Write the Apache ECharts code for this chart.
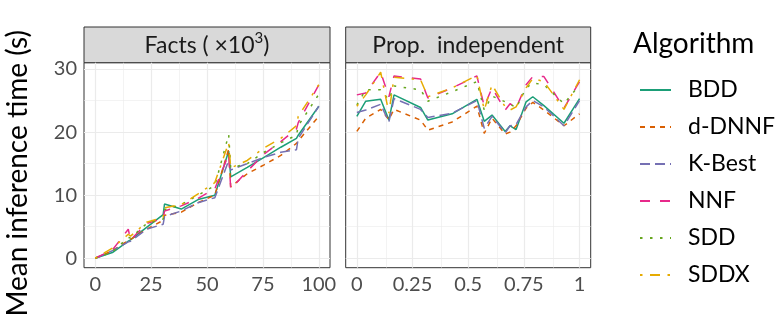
<!DOCTYPE html>
<html>
<head>
<meta charset="utf-8">
<script src="https://cdn.jsdelivr.net/npm/echarts@6/dist/echarts.min.js"></script>
<style>html,body{margin:0;padding:0;background:#fff;}#c{width:781px;height:324px;}</style>
</head>
<body>
<div id="c"></div>
<script>
// ---- data ----
const algorithms = ['BDD', 'd-DNNF', 'K-Best', 'NNF', 'SDD', 'SDDX'];
const colors = ['#1B9E77', '#D95F02', '#7570B3', '#E7298A', '#66A61E', '#E6AB02'];

const factsX = [0, 7.7, 14.8, 15.8, 23, 30.4, 31, 38.5, 46, 53.5, 59.7, 60.6, 68, 75.5, 83, 90, 90.8, 100];
const factsBDD   = [0, 0.9, 2.7, 2.9, 4.9, 6.9, 8.6, 7.8, 9.3, 10.0, 17.0, 12.9, 14.4, 16.0, 17.6, 19.0, 19.5, 24.1];
const factsDDNNF = [0, 1.2, 2.8, 3.0, 4.6, 6.0, 6.8, 7.3, 8.8, 10.0, 17.3, 11.3, 13.4, 14.8, 16.3, 18.2, 18.6, 22.5];
const factsKBest = [0, 1.2, 2.6, 2.7, 4.6, 5.4, 6.6, 7.5, 8.8, 9.6, 15.5, 14.0, 15.0, 16.0, 16.8, 17.2, 19.0, 24.1];
const factsNNF   = [0, 1.3, 4.6, 2.9, 5.5, 6.3, 7.5, 8.3, 9.5, 11.0, 16.5, 11.0, 13.8, 16.5, 18.5, 20.5, 21.5, 27.5];
const factsSDD   = [0, 1.0, 3.3, 3.2, 5.5, 6.2, 7.7, 8.5, 10.0, 11.5, 19.6, 14.3, 15.0, 16.8, 18.3, 19.5, 21.0, 26.0];
const factsSDDX  = [0, 1.6, 3.8, 3.5, 5.7, 6.5, 8.0, 8.5, 10.2, 12.0, 18.3, 14.3, 15.5, 17.5, 19.0, 21.0, 22.5, 27.5];

const propX = [0, 0.04, 0.107, 0.144, 0.167, 0.286, 0.319, 0.428, 0.539, 0.572, 0.607, 0.666, 0.688, 0.715, 0.76, 0.79, 0.84, 0.93, 1.0];
const propBDD   = [22.5, 24.9, 25.2, 21.9, 25.9, 23.9, 21.9, 22.9, 25.2, 21.7, 22.7, 20.1, 21.0, 20.4, 24.8, 25.6, 24.2, 21.4, 25.3];
const propDDNNF = [20.1, 22.2, 23.6, 22.0, 23.6, 21.9, 20.3, 21.6, 24.1, 19.8, 22.2, 19.7, 20.0, 21.0, 23.8, 24.7, 23.5, 21.0, 22.9];
const propKBest = [23.1, 23.5, 24.4, 21.6, 25.3, 23.6, 22.3, 23.0, 25.0, 20.6, 22.5, 19.9, 21.0, 21.2, 24.0, 25.0, 24.0, 21.0, 25.0];
const propNNF   = [25.9, 26.2, 29.5, 25.6, 28.9, 28.4, 25.4, 27.0, 28.9, 24.1, 27.0, 23.5, 24.5, 23.8, 27.5, 28.8, 28.8, 23.8, 28.0];
const propSDD   = [24.3, 26.7, 26.7, 25.1, 27.3, 26.7, 24.9, 26.4, 28.0, 23.5, 25.7, 24.8, 24.5, 23.8, 27.0, 27.8, 27.5, 24.5, 27.5];
const propSDDX  = [24.1, 25.9, 29.5, 23.0, 28.7, 28.3, 25.6, 27.0, 29.0, 23.5, 27.5, 24.0, 23.5, 24.0, 27.0, 28.5, 28.0, 23.6, 28.3];

const yTicks = [0, 10, 20, 30];
const yMinor = [5, 15, 25];
const factsTicks = [0, 25, 50, 75, 100];
const factsMinor = [12.5, 37.5, 62.5, 87.5];
const propTicks = [0, 0.25, 0.5, 0.75, 1];
const propMinor = [0.125, 0.375, 0.625, 0.875];

const panelTitles = ['Facts ( ×10{sup|3})', 'Prop.  independent'];
const legendTitle = 'Algorithm';
const yTitle = 'Mean inference time (s)';

// ---- styling ----
const FONT = 'Lato';
const dashes = ['solid', [5, 5], [10, 5], [10, 10], [2.5, 7.5], [2.5, 7.5, 10, 7.5]];
const grids = [
  { left: 84, top: 62.7, width: 246, height: 205 },
  { left: 345.7, top: 62.7, width: 245, height: 205 }
];

const factsSeries = [factsBDD, factsDDNNF, factsKBest, factsNNF, factsSDD, factsSDDX];
const propSeries = [propBDD, propDDNNF, propKBest, propNNF, propSDD, propSDDX];

function pairs(xs, ys) { return xs.map((x, i) => [x, ys[i]]); }

function gridLines(xMajor, xMinor) {
  const d = [];
  yMinor.forEach(v => d.push({ yAxis: v, lineStyle: { color: '#EBEBEB', width: 0.6, type: 'solid' } }));
  xMinor.forEach(v => d.push({ xAxis: v, lineStyle: { color: '#EBEBEB', width: 0.6, type: 'solid' } }));
  yTicks.forEach(v => d.push({ yAxis: v, lineStyle: { color: '#EBEBEB', width: 1.2, type: 'solid' } }));
  xMajor.forEach(v => d.push({ xAxis: v, lineStyle: { color: '#EBEBEB', width: 1.2, type: 'solid' } }));
  return d;
}

const series = [];
[[factsTicks, factsMinor], [propTicks, propMinor]].forEach((t, p) => {
  series.push({
    type: 'line', name: '__grid' + p, xAxisIndex: p, yAxisIndex: p, data: [], z: 0, silent: true,
    markLine: { silent: true, symbol: ['none', 'none'], label: { show: false }, animation: false, data: gridLines(t[0], t[1]) }
  });
});
algorithms.forEach((name, i) => {
  [[factsX, factsSeries[i]], [propX, propSeries[i]]].forEach((d, p) => {
    series.push({
      type: 'line', name: name, xAxisIndex: p, yAxisIndex: p,
      data: pairs(d[0], d[1]), symbol: 'none', showSymbol: false, z: 5,
      lineStyle: { color: colors[i], width: 1.5, type: dashes[i], cap: 'butt' },
      itemStyle: { color: colors[i] }
    });
  });
});

const axisLabelStyle = { color: '#4D4D4D', fontSize: 20, fontFamily: FONT };

const option = {
  animation: false,
  backgroundColor: '#ffffff',
  grid: grids.map(g => Object.assign({ show: true, borderColor: '#333333', borderWidth: 1, backgroundColor: 'transparent', containLabel: false }, g)),
  xAxis: [
    { gridIndex: 0, type: 'value', min: -5, max: 105, splitLine: { show: false }, axisLine: { show: false },
      axisTick: { show: true, length: 4, lineStyle: { color: '#333' }, customValues: factsTicks },
      axisLabel: Object.assign({ margin: 7, customValues: factsTicks }, axisLabelStyle) },
    { gridIndex: 1, type: 'value', min: -0.05, max: 1.05, splitLine: { show: false }, axisLine: { show: false },
      axisTick: { show: true, length: 4, lineStyle: { color: '#333' }, customValues: propTicks },
      axisLabel: Object.assign({ margin: 7, customValues: propTicks }, axisLabelStyle) }
  ],
  yAxis: [
    { gridIndex: 0, type: 'value', min: -1.5, max: 31, splitLine: { show: false }, axisLine: { show: false },
      axisTick: { show: true, length: 4, lineStyle: { color: '#333' }, customValues: yTicks },
      axisLabel: Object.assign({ margin: 7, customValues: yTicks }, axisLabelStyle),
      name: yTitle, nameLocation: 'middle', nameGap: 52,
      nameTextStyle: { color: '#000', fontSize: 28, fontFamily: FONT, padding: [0, 16, 0, 0] } },
    { gridIndex: 1, type: 'value', min: -1.5, max: 31, splitLine: { show: false }, axisLine: { show: false },
      axisTick: { show: false }, axisLabel: { show: false } }
  ],
  legend: {
    data: algorithms, orient: 'vertical', left: 639, top: 78.5, padding: 0,
    itemWidth: 31, itemHeight: 14, itemGap: 14,
    itemStyle: { opacity: 0 },
    textStyle: { fontSize: 23, lineHeight: 23, fontFamily: FONT, color: '#000', padding: [0, 0, 0, 12] }
  },
  title: { text: legendTitle, left: 633, top: 30, padding: 0, textStyle: { fontSize: 28, fontWeight: 'normal', fontFamily: FONT, color: '#000' } },
  graphic: grids.map((g, i) => ({
    type: 'group', children: [
      { type: 'rect', shape: { x: g.left, y: 27, width: g.width, height: g.top - 27 }, style: { fill: '#D9D9D9', stroke: '#333333', lineWidth: 1 } },
      { type: 'text', x: g.left + g.width / 2, y: (27 + g.top) / 2 + 1, style: {
          text: panelTitles[i], fill: '#1A1A1A', fontSize: 23, fontFamily: FONT, align: 'center', verticalAlign: 'middle',
          rich: { sup: { fontSize: 15, fontFamily: FONT, fill: '#1A1A1A', verticalAlign: 'top', lineHeight: 30 } } } }
    ]
  })),
  series: series
};

const chart = echarts.init(document.getElementById('c'), null, { renderer: 'canvas' });
chart.setOption(option);
</script>
</body>
</html>
